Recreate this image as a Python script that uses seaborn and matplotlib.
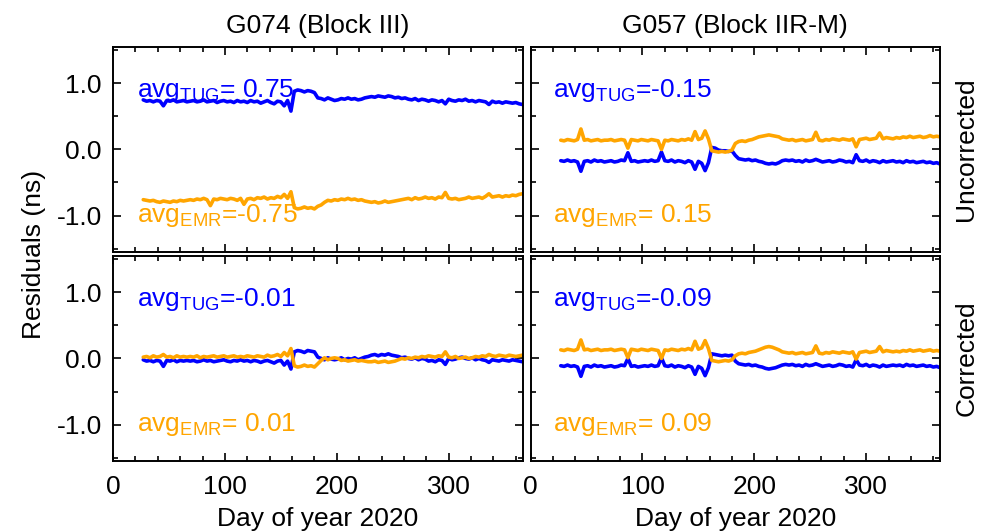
import numpy as np
import pandas as pd
import matplotlib
matplotlib.use("Agg")
import matplotlib.pyplot as plt
from matplotlib.ticker import MultipleLocator, FormatStrFormatter
import seaborn as sns

# Day of year 2020 (every third day)
days = np.arange(27, 367, 3)

# G074 (Block III), uncorrected residuals (ns)
g074_unc_tug = [
    0.75, 0.73, 0.74, 0.72, 0.74, 0.73, 0.66, 0.74, 0.73, 0.75, 0.72, 0.73, 0.74, 0.72,
    0.73, 0.74, 0.72, 0.73, 0.75, 0.72, 0.73, 0.74, 0.71, 0.73, 0.74, 0.72, 0.73, 0.71, 0.74, 0.72,
    0.73, 0.71, 0.74, 0.72, 0.73, 0.70, 0.72, 0.74, 0.71, 0.69, 0.73, 0.72, 0.66, 0.74,
    0.58,
    0.88, 0.90, 0.89, 0.87, 0.89, 0.88, 0.86,
    0.78, 0.77, 0.75, 0.78, 0.76, 0.74,
    0.75, 0.77, 0.76, 0.78, 0.76, 0.77, 0.75, 0.76, 0.78, 0.79,
    0.80, 0.79, 0.81, 0.80, 0.79, 0.81, 0.80, 0.78, 0.79,
    0.77, 0.78, 0.76, 0.75, 0.77, 0.74, 0.76, 0.75, 0.73, 0.75, 0.74, 0.72,
    0.74, 0.69, 0.76, 0.74, 0.73, 0.75, 0.74, 0.76, 0.73, 0.74, 0.72,
    0.74, 0.73, 0.72, 0.68, 0.73, 0.71, 0.72, 0.70, 0.72, 0.71, 0.70, 0.71, 0.69, 0.68,
]
g074_unc_emr = [
    -0.76, -0.77, -0.78, -0.77, -0.79, -0.80, -0.78, -0.79, -0.80, -0.78, -0.79, -0.77, -0.78, -0.77,
    -0.76, -0.77, -0.75, -0.76, -0.74, -0.76, -0.85, -0.75, -0.76, -0.74, -0.75, -0.76, -0.74, -0.75, -0.77, -0.74,
    -0.83, -0.75, -0.74, -0.76, -0.73, -0.74, -0.72, -0.75, -0.73, -0.74, -0.71, -0.73, -0.68, -0.74,
    -0.64,
    -0.88, -0.90, -0.89, -0.87, -0.89, -0.88, -0.90,
    -0.86, -0.84, -0.80, -0.77, -0.78, -0.76,
    -0.77, -0.75, -0.76, -0.74, -0.76, -0.75, -0.77, -0.76, -0.78, -0.79,
    -0.80, -0.79, -0.81, -0.80, -0.78, -0.80, -0.79, -0.78, -0.77,
    -0.76, -0.75, -0.74, -0.76, -0.73, -0.75, -0.74, -0.72, -0.74, -0.73, -0.75, -0.72,
    -0.73, -0.65, -0.74, -0.75, -0.74, -0.76, -0.75, -0.74, -0.72, -0.74, -0.73,
    -0.72, -0.74, -0.71, -0.67, -0.72, -0.71, -0.70, -0.72, -0.70, -0.71, -0.69, -0.70, -0.68, -0.67,
]

# G057 (Block IIR-M), uncorrected residuals (ns)
g057_unc_tug = [
    -0.17, -0.18, -0.16, -0.18, -0.17, -0.19, -0.33, -0.18, -0.17, -0.19, -0.16, -0.18, -0.17, -0.19,
    -0.18, -0.17, -0.19, -0.18, -0.16, -0.17, -0.05, -0.18, -0.17, -0.19, -0.18, -0.17, -0.18, -0.16, -0.18, -0.17,
    -0.04, -0.17, -0.18, -0.16, -0.19, -0.17, -0.18, -0.20, -0.17, -0.19, -0.30, -0.18, -0.21, -0.32,
    -0.20,
    0.03, 0.02, -0.01, -0.02, -0.02, -0.03, -0.02,
    -0.09, -0.14, -0.15, -0.16, -0.15, -0.17,
    -0.16, -0.18, -0.19, -0.21, -0.22, -0.21, -0.22, -0.20, -0.17, -0.16,
    -0.17, -0.16, -0.18, -0.17, -0.19, -0.16, -0.18, -0.17, -0.15,
    -0.17, -0.19, -0.18, -0.17, -0.19, -0.18, -0.16, -0.17, -0.19, -0.18, -0.20, -0.08,
    -0.17, -0.18, -0.16, -0.19, -0.17, -0.18, -0.20, -0.17, -0.19, -0.18, -0.17,
    -0.19, -0.18, -0.20, -0.17, -0.19, -0.18, -0.20, -0.19, -0.18, -0.20, -0.19, -0.21, -0.20, -0.22,
]
g057_unc_emr = [
    0.14, 0.13, 0.15, 0.14, 0.13, 0.15, 0.31, 0.14, 0.15, 0.13, 0.14, 0.15, 0.13, 0.14,
    0.14, 0.15, 0.13, 0.14, 0.15, 0.14, 0.02, 0.15, 0.14, 0.13, 0.15, 0.14, 0.13, 0.15, 0.14, 0.13,
    0.00, 0.14, 0.13, 0.15, 0.14, 0.13, 0.15, 0.14, 0.16, 0.14, 0.27, 0.15, 0.17, 0.28,
    0.16,
    -0.02, -0.03, -0.04, -0.03, -0.04, -0.03, -0.01,
    0.09, 0.12, 0.13, 0.12, 0.14, 0.15,
    0.17, 0.19, 0.20, 0.21, 0.22, 0.21, 0.20, 0.19, 0.16, 0.15,
    0.14, 0.15, 0.13, 0.14, 0.15, 0.13, 0.14, 0.15, 0.26,
    0.14, 0.13, 0.15, 0.14, 0.16, 0.15, 0.14, 0.16, 0.15, 0.14, 0.16, 0.04,
    0.15, 0.16, 0.17, 0.15, 0.16, 0.17, 0.25, 0.16, 0.18, 0.17, 0.16,
    0.18, 0.17, 0.19, 0.18, 0.20, 0.18, 0.19, 0.20, 0.18, 0.19, 0.21, 0.19, 0.20, 0.19,
]

# G074 (Block III), corrected residuals (ns)
g074_cor_tug = [
    -0.02, -0.04, -0.03, -0.05, -0.03, -0.04, -0.12, -0.03, -0.04, -0.02, -0.05, -0.03, -0.04, -0.03,
    -0.04, -0.03, -0.05, -0.04, -0.02, -0.04, -0.03, -0.05, -0.04, -0.03, -0.02, -0.04, -0.05, -0.03, -0.04, -0.02,
    -0.04, -0.03, -0.05, -0.03, -0.04, -0.06, -0.04, -0.03, -0.05, -0.07, -0.04, -0.03, -0.10, -0.04,
    -0.16,
    0.10, 0.12, 0.11, 0.09, 0.12, 0.11, 0.10,
    0.02, 0.00, -0.02, 0.01, -0.01, -0.02,
    -0.01, 0.01, -0.02, 0.00, -0.01, 0.01, -0.02, 0.00, 0.02, 0.03,
    0.05, 0.06, 0.04, 0.06, 0.05, 0.07, 0.05, 0.04, 0.03,
    0.01, 0.02, 0.00, -0.01, 0.01, -0.02, 0.00, -0.01, -0.04, -0.03, -0.05, -0.02,
    -0.03, -0.09, 0.00, -0.02, -0.01, 0.01, 0.02, 0.00, -0.01, 0.01, -0.02,
    0.00, -0.02, -0.03, -0.06, -0.02, -0.03, -0.04, -0.02, -0.03, -0.04, -0.02, -0.03, -0.04, -0.05,
]
g074_cor_emr = [
    0.02, 0.03, 0.01, 0.04, 0.02, 0.03, 0.06, 0.02, 0.03, 0.01, 0.04, 0.02, 0.03, 0.02,
    0.03, 0.02, 0.04, 0.01, 0.03, 0.02, 0.03, 0.04, 0.02, 0.03, 0.04, 0.02, 0.03, 0.04, 0.02, 0.03,
    0.02, 0.04, 0.03, 0.02, 0.04, 0.03, 0.02, 0.05, 0.03, 0.04, 0.06, 0.03, 0.09, 0.04,
    0.15,
    -0.11, -0.13, -0.12, -0.10, -0.12, -0.11, -0.13,
    -0.08, -0.03, 0.01, -0.02, 0.00, 0.01,
    0.00, -0.03, -0.02, -0.04, -0.03, -0.02, -0.04, -0.03, -0.04, -0.05,
    -0.05, -0.04, -0.06, -0.05, -0.04, -0.06, -0.05, -0.04, -0.02,
    0.00, -0.01, 0.01, 0.00, 0.02, 0.01, 0.03, 0.02, 0.04, 0.03, 0.02, 0.04,
    0.03, 0.10, 0.02, 0.01, 0.03, 0.00, 0.01, 0.02, 0.00, 0.01, 0.03,
    0.02, 0.04, 0.03, 0.06, 0.04, 0.03, 0.05, 0.04, 0.03, 0.05, 0.04, 0.03, 0.04, 0.05,
]

# G057 (Block IIR-M), corrected residuals (ns)
g057_cor_tug = [
    -0.11, -0.12, -0.10, -0.12, -0.11, -0.13, -0.27, -0.12, -0.11, -0.13, -0.10, -0.12, -0.11, -0.13,
    -0.12, -0.11, -0.13, -0.12, -0.10, -0.11, 0.00, -0.12, -0.11, -0.13, -0.12, -0.11, -0.12, -0.10, -0.12, -0.11,
    0.01, -0.11, -0.12, -0.10, -0.13, -0.11, -0.12, -0.14, -0.11, -0.13, -0.24, -0.12, -0.15, -0.26,
    -0.14,
    0.07, 0.06, 0.05, 0.04, 0.05, 0.04, 0.05,
    -0.04, -0.08, -0.09, -0.10, -0.09, -0.11,
    -0.10, -0.12, -0.13, -0.15, -0.16, -0.15, -0.14, -0.12, -0.10, -0.09,
    -0.10, -0.09, -0.11, -0.10, -0.12, -0.09, -0.11, -0.10, -0.08,
    -0.10, -0.12, -0.11, -0.10, -0.12, -0.11, -0.09, -0.10, -0.12, -0.11, -0.13, -0.02,
    -0.10, -0.11, -0.09, -0.12, -0.10, -0.11, -0.13, -0.10, -0.12, -0.11, -0.10,
    -0.11, -0.10, -0.12, -0.09, -0.11, -0.10, -0.12, -0.11, -0.10, -0.12, -0.11, -0.13, -0.12, -0.14,
]
g057_cor_emr = [
    0.13, 0.12, 0.14, 0.13, 0.12, 0.14, 0.28, 0.13, 0.14, 0.12, 0.13, 0.14, 0.12, 0.13,
    0.13, 0.14, 0.12, 0.13, 0.14, 0.13, 0.01, 0.14, 0.13, 0.12, 0.14, 0.13, 0.12, 0.14, 0.13, 0.12,
    0.00, 0.13, 0.12, 0.14, 0.13, 0.12, 0.14, 0.13, 0.15, 0.13, 0.26, 0.14, 0.16, 0.27,
    0.15,
    -0.03, -0.04, -0.05, -0.04, -0.03, -0.04, -0.02,
    0.04, 0.07, 0.08, 0.07, 0.09, 0.10,
    0.11, 0.13, 0.15, 0.17, 0.18, 0.17, 0.15, 0.13, 0.10, 0.09,
    0.08, 0.09, 0.07, 0.08, 0.09, 0.07, 0.08, 0.09, 0.19,
    0.08, 0.07, 0.09, 0.08, 0.10, 0.09, 0.08, 0.10, 0.09, 0.08, 0.10, -0.01,
    0.09, 0.10, 0.11, 0.09, 0.10, 0.11, 0.18, 0.10, 0.12, 0.11, 0.10,
    0.11, 0.10, 0.12, 0.11, 0.13, 0.11, 0.12, 0.13, 0.11, 0.12, 0.13, 0.11, 0.12, 0.11,
]

# Mean residuals printed in each panel
avg_labels = {
    ("G074", "Uncorrected"): ("0.75", "-0.75"),
    ("G057", "Uncorrected"): ("-0.15", "0.15"),
    ("G074", "Corrected"): ("-0.01", "0.01"),
    ("G057", "Corrected"): ("-0.09", "0.09"),
}

sats = ["G074", "G057"]
sat_titles = ["G074 (Block III)", "G057 (Block IIR-M)"]
rows = ["Uncorrected", "Corrected"]
series = {
    ("G074", "Uncorrected"): (g074_unc_tug, g074_unc_emr),
    ("G057", "Uncorrected"): (g057_unc_tug, g057_unc_emr),
    ("G074", "Corrected"): (g074_cor_tug, g074_cor_emr),
    ("G057", "Corrected"): (g057_cor_tug, g057_cor_emr),
}

frames = []
for (sat, row), (tug, emr) in series.items():
    for st, vals in (("TUG", tug), ("EMR", emr)):
        frames.append(pd.DataFrame({"day": days, "res": vals, "sat": sat,
                                    "row": row, "station": st}))
df = pd.concat(frames, ignore_index=True)

sns.set_theme(style="ticks")
plt.rcParams["font.family"] = ["Liberation Sans", "DejaVu Sans"]
plt.rcParams["mathtext.fontset"] = "custom"
plt.rcParams["mathtext.rm"] = "Liberation Sans"
plt.rcParams["mathtext.it"] = "Liberation Sans"
plt.rcParams["axes.unicode_minus"] = False
plt.rcParams["text.color"] = "black"
plt.rcParams["axes.labelcolor"] = "black"
plt.rcParams["xtick.color"] = "black"
plt.rcParams["ytick.color"] = "black"

FS = 19
colors = {"TUG": "#0000FF", "EMR": "#FFA500"}

fig, axes = plt.subplots(2, 2, figsize=(9.89, 5.31), dpi=100, sharex=True, sharey=True)
fig.subplots_adjust(left=0.1143, right=0.9505, top=0.9115, bottom=0.132,
                    wspace=0.0196, hspace=0.02)

for r, row in enumerate(rows):
    for c, sat in enumerate(sats):
        ax = axes[r, c]
        sub = df[(df["sat"] == sat) & (df["row"] == row)]
        sns.lineplot(data=sub, x="day", y="res", hue="station",
                     hue_order=["TUG", "EMR"], palette=colors,
                     estimator=None, sort=False, lw=2.6, legend=False, ax=ax)
        ax.set_xlim(0, 366)
        ax.set_ylim(-1.55, 1.55)
        ax.xaxis.set_major_locator(MultipleLocator(100))
        ax.xaxis.set_minor_locator(MultipleLocator(20))
        ax.yaxis.set_major_locator(MultipleLocator(1.0))
        ax.yaxis.set_minor_locator(MultipleLocator(0.5))
        ax.yaxis.set_major_formatter(FormatStrFormatter("%.1f"))
        ax.tick_params(which="both", direction="in", top=True, right=True,
                       width=1.2, labelsize=FS, colors="black")
        ax.tick_params(which="major", length=6)
        ax.tick_params(which="minor", length=3.5)
        ax.tick_params(axis="x", which="major", pad=10)
        ax.tick_params(axis="y", which="major", pad=8)
        for sp in ax.spines.values():
            sp.set_linewidth(1.4)
            sp.set_color("black")
        ax.set_xlabel("Day of year 2020" if r == 1 else "", fontsize=FS, labelpad=6)
        ax.set_ylabel("")
        t_avg, e_avg = avg_labels[(sat, row)]
        xt = 0.058 if c == 0 else 0.056
        ax.text(xt, 0.755, r"avg$_{\mathrm{TUG}}$=" + ("" if t_avg.startswith("-") else " ") + t_avg,
                transform=ax.transAxes, color=colors["TUG"], fontsize=FS, va="baseline")
        ax.text(xt, 0.145, r"avg$_{\mathrm{EMR}}$=" + ("" if e_avg.startswith("-") else " ") + e_avg,
                transform=ax.transAxes, color=colors["EMR"], fontsize=FS, va="baseline")
        if r == 0:
            ax.set_title(sat_titles[c], fontsize=FS, pad=10, color="black")
        if c == 1:
            ax.text(1.035, 0.5, row, transform=ax.transAxes, rotation=90,
                    ha="left", va="center", fontsize=FS)

fig.text(0.022, 0.52, "Residuals (ns)", rotation=90, ha="left", va="center", fontsize=FS)
fig.savefig("out.png", dpi=100)
